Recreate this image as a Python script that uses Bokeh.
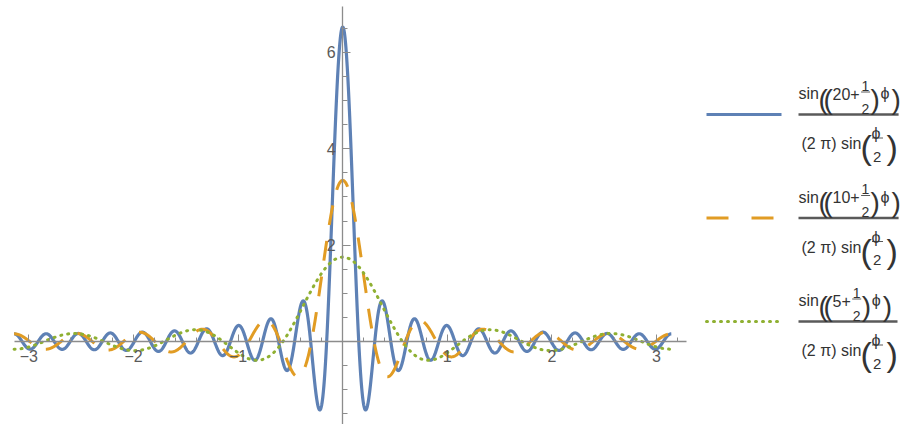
import numpy as np
from bokeh.plotting import figure
from bokeh.models import Range1d, FixedTicker, ColumnDataSource
from bokeh.embed import file_html
from bokeh.resources import INLINE
from bokeh.core.properties import value

# ---------------- data ----------------
harmonics = [20, 10, 5]                 # n in sin((n+1/2)ϕ) / ((2π) sin(ϕ/2))
series_colors = ["#5E81B5", "#E19C24", "#8FB032"]
series_dash = ["solid", "20 16", "1 6"]
series_width = [3.2, 3.0, 3.0]
legend_dash = ["solid", "22 23", "1 6"]
phi_start, phi_end = -np.pi, np.pi

x_major = [-3, -2, -1, 1, 2, 3]
x_tick_labels = ["−3", "−2", "−1", "1", "2", "3"]
x_minor = [round(-3 + 0.2 * i, 1) for i in range(32) if i % 5]
y_major = [2, 4, 6]
y_tick_labels = ["2", "4", "6"]
y_minor = [-1.5, -1, -0.5, 0.5, 1, 1.5, 2.5, 3, 3.5, 4.5, 5, 5.5, 6.5]

# ---------------- layout ----------------
W, H = 901, 424
PX_PER_X = 104.6
PX_PER_Y = 48.2
X0 = -342.2 / PX_PER_X
X1 = X0 + W / PX_PER_X
Y1 = 341.0 / PX_PER_Y
Y0 = Y1 - H / PX_PER_Y


def px_x(px):
    return X0 + px / PX_PER_X


def px_y(py):
    return Y1 - py / PX_PER_Y


p = figure(width=W, height=H, output_backend="svg", toolbar_location=None,
           x_range=Range1d(X0, X1), y_range=Range1d(Y0, Y1),
           min_border=0, min_border_left=0, min_border_right=0,
           min_border_top=0, min_border_bottom=0)
p.outline_line_color = None
p.grid.visible = False
p.background_fill_color = "white"
p.border_fill_color = "white"

# ---------------- curves ----------------
phi = np.linspace(phi_start, phi_end, 2400)
for n, c, d, w in zip(harmonics, series_colors, series_dash, series_width):
    vals = np.sin((n + 0.5) * phi) / (2 * np.pi * np.sin(phi / 2))
    p.line(phi, vals, line_color=c, line_width=w, line_dash=d,
           line_cap="round" if d == "1 6" else "butt", line_join="round")

# ---------------- axes ----------------
ax_col = "#8c8c8c"
lab_col = "#5a5a5a"
xa = p.xaxis[0]
xa.fixed_location = 0
xa.bounds = (px_x(14), px_x(686))
xa.ticker = FixedTicker(ticks=x_major, minor_ticks=x_minor)
xa.major_label_overrides = {t: l for t, l in zip(x_major, x_tick_labels)}
xa.axis_line_color = ax_col
xa.axis_line_width = 1.3
xa.major_tick_line_color = ax_col
xa.minor_tick_line_color = ax_col
xa.major_tick_in = 7
xa.major_tick_out = 0
xa.minor_tick_in = 4
xa.minor_tick_out = 0
xa.major_label_standoff = 8
xa.major_label_text_font = "Liberation Sans"
xa.major_label_text_font_size = "16px"
xa.major_label_text_color = lab_col

ya = p.yaxis[0]
ya.fixed_location = 0
ya.bounds = (Y0, px_y(6))
ya.ticker = FixedTicker(ticks=y_major, minor_ticks=y_minor)
ya.major_label_overrides = {t: l for t, l in zip(y_major, y_tick_labels)}
ya.axis_line_color = ax_col
ya.axis_line_width = 1.3
ya.major_tick_line_color = ax_col
ya.minor_tick_line_color = ax_col
ya.major_tick_in = 8
ya.major_tick_out = 0
ya.minor_tick_in = 5
ya.minor_tick_out = 0
ya.major_label_standoff = 7
ya.major_label_text_font = "Liberation Sans"
ya.major_label_text_font_size = "16px"
ya.major_label_text_color = lab_col

# ---------------- legend ----------------
legend_bar_py = [114, 217.5, 321]
legend_sample_px = (706, 781)
legend_text_px = 798
txt_col = "#333333"
bar_col = "#5a5a5a"

tx, ty, tt, tdx, tdy, tfs = [], [], [], [], [], []
bx0, bx1, by, bw = [], [], [], []

for n, c, d, pyb in zip(harmonics, series_colors, legend_dash, legend_bar_py):
    yb = px_y(pyb)
    p.line([px_x(legend_sample_px[0]), px_x(legend_sample_px[1])], [yb, yb],
           line_color=c, line_width=3.0, line_dash=d,
           line_cap="round" if d == "1 6" else "butt")
    s = str(n)
    wS = len(s) * 8.9 + 9.3
    fx = 34 + wS + 2
    pr = fx + 9
    pieces = [
        ("sin", 0, -21, 16),
        ("(", 20, -15.3, 28),
        ("(", 25, -15.3, 28),
        (s + "+", 34, -21, 16),
        ("1", fx, -29, 14),
        ("2", fx, -6, 14),
        (")", pr, -15.3, 28),
        ("ϕ", pr + 10, -21, 16),
        (")", pr + 21, -15.3, 28),
        ("(2 π) sin", 3, 29, 16),
        ("(", 62, 32.8, 34),
        ("ϕ", 73, 19, 16),
        ("2", 74.5, 42, 15),
        (")", 88, 32.8, 34),
    ]
    for (t, dx, dy, fs) in pieces:
        tx.append(px_x(legend_text_px))
        ty.append(yb)
        tt.append(t)
        tdx.append(dx)
        tdy.append(dy)
        tfs.append(f"{fs}px")
    bar_end = max(pr + 21 + 7, 99)
    # main fraction bar
    bx0.append(px_x(legend_text_px)); bx1.append(px_x(legend_text_px + bar_end))
    by.append(yb); bw.append(2.6)
    # small numerator bar (1/2)
    bx0.append(px_x(legend_text_px + fx - 0.5)); bx1.append(px_x(legend_text_px + fx + 8.5))
    by.append(px_y(pyb - 22.5)); bw.append(1.0)
    # small denominator bar (ϕ/2)
    bx0.append(px_x(legend_text_px + 73.5)); bx1.append(px_x(legend_text_px + 84.5))
    by.append(px_y(pyb + 23.5)); bw.append(1.0)

p.segment(x0=bx0, x1=bx1, y0=by, y1=by, line_color=bar_col, line_width=bw)

src = ColumnDataSource(dict(x=tx, y=ty, text=tt, dx=tdx, dy=tdy, fs=tfs))
p.text(x="x", y="y", text="text", x_offset="dx", y_offset="dy", source=src,
       text_font=value("Liberation Sans"), text_font_size="fs",
       text_color=txt_col, text_align="left", text_baseline="alphabetic")

open("out.html", "w").write(file_html(p, INLINE))
